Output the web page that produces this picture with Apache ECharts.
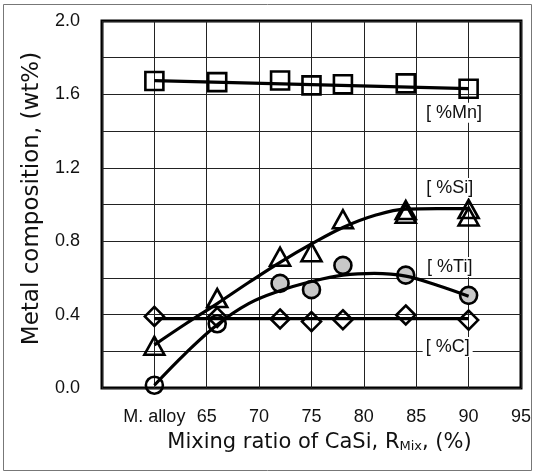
<!DOCTYPE html>
<html>
<head>
<meta charset="utf-8">
<script src="https://cdn.jsdelivr.net/npm/echarts@6/dist/echarts.min.js"></script>
<style>
  html, body { margin: 0; padding: 0; background: #fff; }
  #chart { width: 534px; height: 473px; }
</style>
</head>
<body>
<div id="chart"></div>
<script>
// ---- data ----
const xValues = [60, 66, 72, 75, 78, 84, 90];
const mnValues = [1.673, 1.667, 1.676, 1.649, 1.655, 1.66, 1.631];
const siValues = [0.23, 0.49, 0.715, 0.74, 0.92, 0.97, 0.975];
const siExtraX = [84, 90];
const siExtraValues = [0.95, 0.935];
const tiValues = [0.015, 0.35, 0.57, 0.536, 0.668, 0.615, 0.505];
const cValues = [0.39, 0.385, 0.376, 0.362, 0.372, 0.398, 0.37];

const fitX = [60, 63, 66, 69, 72, 75, 78, 81, 84, 87, 90];
const siFit = [0.235, 0.35, 0.46, 0.575, 0.685, 0.785, 0.875, 0.94, 0.975, 0.978, 0.978];
const tiFit = [0.015, 0.19, 0.345, 0.46, 0.53, 0.58, 0.615, 0.625, 0.61, 0.56, 0.50];
const lineEndsX = [60, 90];
const mnFit = [1.675, 1.632];
const cFit = [0.378, 0.378];

const xTickValues = [60, 65, 70, 75, 80, 85, 90, 95];
const xTickLabels = ['M. alloy', '65', '70', '75', '80', '85', '90', '95'];
const yTickValues = [0, 0.4, 0.8, 1.2, 1.6, 2.0];
const yTickLabels = ['0.0', '0.4', '0.8', '1.2', '1.6', '2.0'];

const labelNames = ['[ %Mn]', '[ %Si]', '[ %Ti]', '[ %C]'];
const labelX = [88.6, 88.2, 88.2, 88.0];
const labelY = [1.50, 1.09, 0.66, 0.224];

// ---- helpers ----
const zip = (xs, ys) => xs.map((x, i) => [x, ys[i]]);
const tickFont = 'Liberation Sans, Arial, sans-serif';
const nameFont = 'DejaVu Sans, sans-serif';

const chart = echarts.init(document.getElementById('chart'), null, { renderer: 'canvas' });

const markerBase = {
  type: 'scatter',
  symbolSize: 18,
  z: 3,
  itemStyle: { color: 'rgba(255,255,255,0)', borderColor: '#000', borderWidth: 2.6, opacity: 1 }
};
const fitBase = {
  type: 'line',
  showSymbol: false,
  symbol: 'none',
  z: 4,
  lineStyle: { color: '#000', width: 3.2 }
};

const option = {
  animation: false,
  backgroundColor: '#fff',
  grid: {
    left: 102, top: 21, right: 11, bottom: 85,
    show: true, borderColor: '#000', borderWidth: 3, backgroundColor: 'transparent'
  },
  xAxis: {
    type: 'value', min: 55, max: 95, interval: 5,
    axisLine: { show: false }, axisTick: { show: false },
    splitLine: { show: true, lineStyle: { color: '#222', width: 1 } },
    axisLabel: {
      margin: 20, fontSize: 18, fontFamily: tickFont, color: '#111',
      showMinLabel: true, showMaxLabel: true,
      formatter: v => {
        const i = xTickValues.findIndex(t => Math.abs(t - v) < 1e-6);
        return i >= 0 ? xTickLabels[i] : '';
      }
    },
    name: '{a|Mixing ratio of CaSi, R}{b|Mix}{a|, (%)}',
    nameLocation: 'middle', nameGap: 44,
    nameTextStyle: {
      padding: [0, 0, 0, 16],
      rich: {
        a: { fontSize: 21, fontFamily: nameFont, color: '#111' },
        b: { fontSize: 13, fontFamily: nameFont, color: '#111', verticalAlign: 'bottom', padding: [8, 0, 0, 0] }
      }
    }
  },
  yAxis: {
    type: 'value', min: 0, max: 2.0, interval: 0.2,
    axisLine: { show: false }, axisTick: { show: false },
    splitLine: { show: true, lineStyle: { color: '#222', width: 1 } },
    axisLabel: {
      margin: 22, fontSize: 18, fontFamily: tickFont, color: '#111',
      formatter: v => {
        const i = yTickValues.findIndex(t => Math.abs(t - v) < 1e-6);
        return i >= 0 ? yTickLabels[i] : '';
      }
    },
    name: 'Metal composition, (wt%)',
    nameLocation: 'middle', nameGap: 58,
    nameTextStyle: { fontSize: 23, fontFamily: nameFont, color: '#111', padding: [0, 0, 0, 12] }
  },
  series: [
    Object.assign({}, markerBase, { name: 'Mn', symbol: 'rect', data: zip(xValues, mnValues) }),
    Object.assign({}, markerBase, { name: 'Si', symbol: 'triangle', symbolSize: [20, 18], data: zip(xValues, siValues) }),
    Object.assign({}, markerBase, { name: 'Si2', symbol: 'triangle', symbolSize: [20, 18], data: zip(siExtraX, siExtraValues) }),
    Object.assign({}, markerBase, {
      name: 'Ti', symbol: 'circle', symbolSize: 17,
      itemStyle: {
        borderColor: '#000', borderWidth: 2.6, opacity: 1,
        color: p => (p.dataIndex >= 2 ? '#c8c8c8' : 'rgba(255,255,255,0)')
      },
      data: zip(xValues, tiValues)
    }),
    Object.assign({}, markerBase, { name: 'C', symbol: 'diamond', symbolSize: [19, 19], data: zip(xValues, cValues) }),
    Object.assign({}, fitBase, { name: 'MnFit', data: zip(lineEndsX, mnFit) }),
    Object.assign({}, fitBase, { name: 'SiFit', smooth: 0.4, data: zip(fitX, siFit) }),
    Object.assign({}, fitBase, { name: 'TiFit', smooth: 0.4, data: zip(fitX, tiFit) }),
    Object.assign({}, fitBase, { name: 'CFit', data: zip(lineEndsX, cFit) }),
    {
      name: 'labels', type: 'scatter', symbol: 'circle', symbolSize: 1, z: 5,
      itemStyle: { color: 'rgba(255,255,255,0)', opacity: 1 },
      label: {
        show: true, position: 'inside', formatter: p => p.name,
        fontSize: 18, fontFamily: tickFont, color: '#111', opacity: 1,
        backgroundColor: '#fff', padding: [1, 3]
      },
      data: labelNames.map((n, i) => ({ name: n, value: [labelX[i], labelY[i]] }))
    }
  ],
  graphic: [{
    type: 'rect', silent: true, z: 100,
    shape: { x: 3.5, y: 4.5, width: 528, height: 466 },
    style: { fill: 'none', stroke: '#777', lineWidth: 1 }
  }]
};

chart.setOption(option);
</script>
</body>
</html>
